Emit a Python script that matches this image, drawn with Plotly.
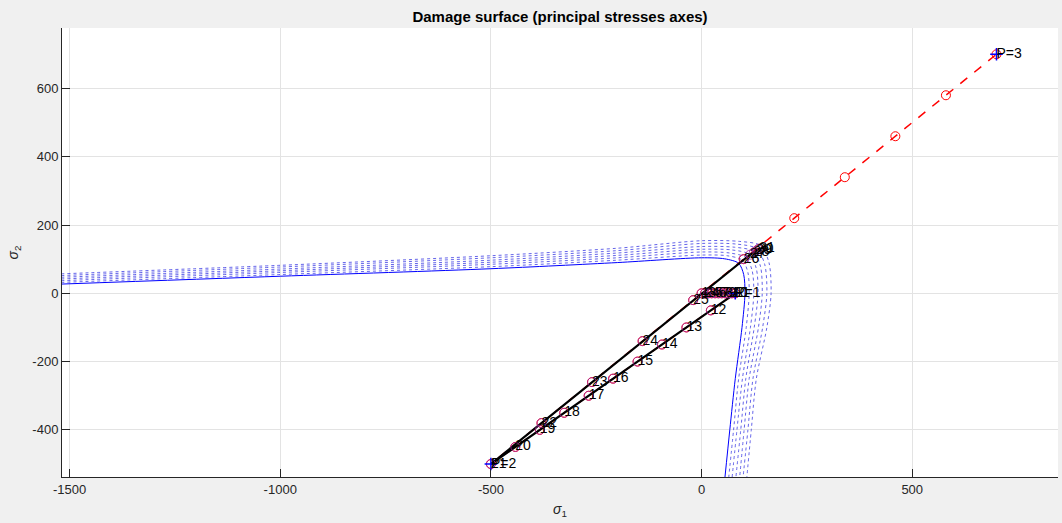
import plotly.graph_objects as go

# ---- actual (returned) stress path, numbered points ----
act_s1 = [0, 8, 16, 24, 32, 40, 48, 56, 64, 72, 80,
          22, -36, -94, -152, -210, -268, -326, -384, -442, -500,
          -380, -260, -140, -20, 100, 115, 124, 130, 134, 137]
act_s2 = [0, 0, 0, 0, 0, 0, 0, 0, 0, 0, 0,
          -50, -100, -150, -200, -250, -300, -350, -400, -450, -500,
          -380, -260, -140, -20, 100, 113, 120, 125, 129, 131]
act_labels = [str(i) for i in range(1, 32)]

# ---- applied (trial) stress path ----
app_s1 = [0, 8, 16, 24, 32, 40, 48, 56, 64, 72, 80,
          22, -36, -94, -152, -210, -268, -326, -384, -442, -500,
          -380, -260, -140, -20, 100, 220, 340, 460, 580, 700]
app_s2 = [0, 0, 0, 0, 0, 0, 0, 0, 0, 0, 0,
          -50, -100, -150, -200, -250, -300, -350, -400, -450, -500,
          -380, -260, -140, -20, 100, 220, 340, 460, 580, 700]

# ---- end of each load path ----
end_s1 = [80, -500, 700]
end_s2 = [0, -500, 700]
end_labels = ["P=1", "P=2", "P=3"]

# ---- damage surfaces (initial = solid, evolved = dotted) ----
surf0_s1 = [-1520, -1000, -500, -200, 0, 55, 88, 100, 103, 96, 80, 67, 55]
surf0_s2 = [27, 50, 72, 90, 104, 101, 88, 55, 0, -100, -250, -400, -545]
surf_evolved_s1 = [
    [-1520, -1000, -500, -200, 0, 61, 97, 110, 113, 106, 88, 76, 64],
    [-1520, -1000, -500, -200, 0, 67, 105, 120, 124, 116, 97, 84, 72],
    [-1520, -1000, -500, -200, 0, 72, 114, 130, 134, 125, 105, 93, 81],
    [-1520, -1000, -500, -200, 0, 78, 123, 140, 144, 135, 113, 101, 90],
    [-1520, -1000, -500, -200, 0, 84, 131, 150, 155, 145, 122, 110, 98],
    [-1520, -1000, -500, -200, 0, 90, 140, 160, 165, 155, 130, 118, 107],
]
surf_evolved_s2 = [
    [32, 55, 78, 97, 112, 110, 97, 61, 0, -100, -250, -400, -545],
    [37, 61, 85, 104, 121, 118, 105, 67, 0, -100, -250, -400, -545],
    [42, 66, 91, 111, 129, 127, 114, 72, 0, -100, -250, -400, -545],
    [47, 71, 97, 118, 137, 135, 123, 78, 0, -100, -250, -400, -545],
    [52, 77, 104, 125, 146, 144, 131, 84, 0, -100, -250, -400, -545],
    [57, 82, 110, 132, 154, 152, 140, 90, 0, -100, -250, -400, -545],
]

x_ticks = [-1500, -1000, -500, 0, 500]
x_ticktext = ["-1500", "-1000", "-500", "0", "500"]
y_ticks = [-400, -200, 0, 200, 400, 600]
y_ticktext = ["-400", "-200", "0", "200", "400", "600"]

FONT = "Liberation Sans, Arial, Helvetica"

fig = go.Figure()

for xs, ys in zip(surf_evolved_s1, surf_evolved_s2):
    fig.add_trace(go.Scatter(x=xs, y=ys, mode="lines",
                             line=dict(color="rgba(50,50,225,0.75)", width=1, dash="dot",
                                       shape="spline", smoothing=0.8),
                             hoverinfo="skip", showlegend=False))
fig.add_trace(go.Scatter(x=surf0_s1, y=surf0_s2, mode="lines",
                         line=dict(color="#0000ff", width=1, shape="spline", smoothing=0.8),
                         showlegend=False))

fig.add_trace(go.Scatter(x=app_s1, y=app_s2, mode="lines+markers",
                         line=dict(color="#ff0000", width=1.5, dash="dash"),
                         marker=dict(symbol="circle-open", size=9, color="#ff0000", line=dict(width=1)),
                         showlegend=False))
fig.add_trace(go.Scatter(x=act_s1, y=act_s2, mode="lines",
                         line=dict(color="#000000", width=2.2),
                         showlegend=False))
fig.add_trace(go.Scatter(x=act_s1, y=act_s2, mode="markers",
                         marker=dict(symbol="circle-open", size=9, color="rgba(160,40,160,0.8)", line=dict(width=1)),
                         showlegend=False))
fig.add_trace(go.Scatter(x=end_s1, y=end_s2, mode="markers",
                         marker=dict(symbol="cross-thin-open", size=9, color="#0000ff", line=dict(width=1.5)),
                         showlegend=False))

fig.add_trace(go.Scatter(x=act_s1, y=act_s2, mode="text", text=act_labels,
                         textposition="middle right",
                         textfont=dict(family=FONT, size=14, color="#000000"),
                         showlegend=False))
fig.add_trace(go.Scatter(x=end_s1, y=end_s2, mode="text", text=end_labels,
                         textposition="middle right",
                         textfont=dict(family=FONT, size=14, color="#000000"),
                         showlegend=False))

axis_common = dict(showgrid=True, gridcolor="#e3e3e3", gridwidth=1,
                   showline=True, linecolor="#262626", linewidth=1,
                   ticks="inside", ticklen=8, tickcolor="#262626",
                   tickfont=dict(family=FONT, size=13, color="#262626"),
                   zeroline=False, mirror=False)

fig.update_layout(
    width=1062, height=523,
    margin=dict(l=62, r=4, t=28, b=46),
    paper_bgcolor="#f0f0f0", plot_bgcolor="#ffffff",
    title=dict(text="<b>Damage surface (principal stresses axes)</b>",
               x=0.5, xref="paper", xanchor="center", y=1 - 17 / 523, yanchor="middle",
               font=dict(family=FONT, size=15, color="#000000")),
    xaxis=dict(range=[-1518, 846], tickvals=x_ticks, ticktext=x_ticktext,
               title=dict(text="<i>σ</i><sub>1</sub>", standoff=8,
                          font=dict(family=FONT, size=14, color="#262626")),
               **axis_common),
    yaxis=dict(range=[-538, 777], tickvals=y_ticks, ticktext=y_ticktext,
               title=dict(text="<i>σ</i><sub>2</sub>", standoff=10,
                          font=dict(family=FONT, size=14, color="#262626")),
               **axis_common),
)

fig.write_html("out.html")
